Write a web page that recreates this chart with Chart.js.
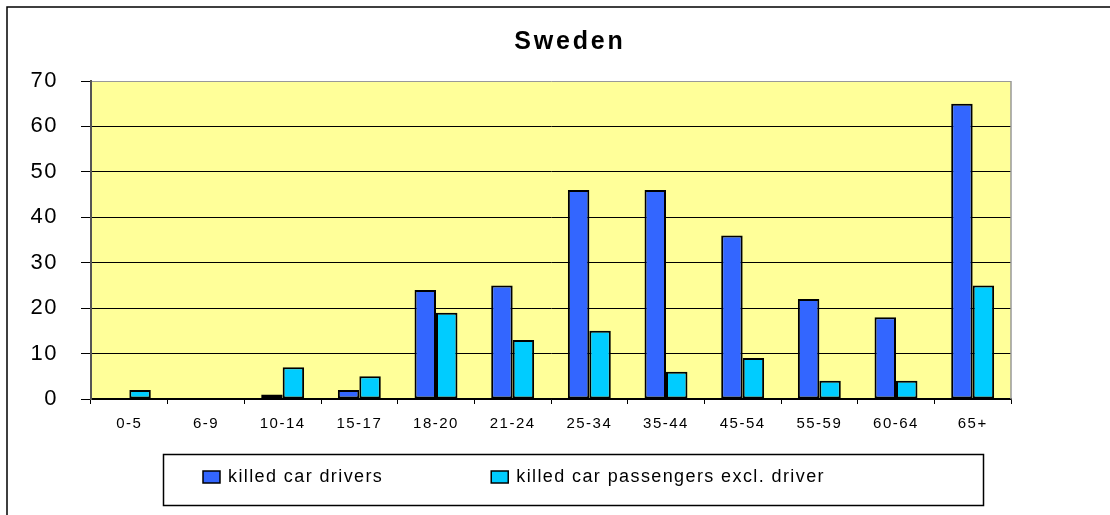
<!DOCTYPE html>
<html>
<head>
<meta charset="utf-8">
<script src="https://cdn.jsdelivr.net/npm/chart.js@4"></script>
<style>
  html, body { margin: 0; padding: 0; background: #fff; overflow: hidden; }
  canvas { display: block; }
</style>
</head>
<body>
<canvas id="sweden" width="1110" height="515"></canvas>
<script>
const ageGroups = ['0-5', '6-9', '10-14', '15-17', '18-20', '21-24', '25-34', '35-44', '45-54', '55-59', '60-64', '65+'];
const killedDrivers = [0, 0, 1, 2, 24, 25, 46, 46, 36, 22, 18, 65];
const killedPassengers = [2, 0, 7, 5, 19, 13, 15, 6, 9, 4, 4, 25];
const yTicks = [0, 10, 20, 30, 40, 50, 60, 70];
const seriesNames = ['killed car drivers', 'killed car passengers excl. driver'];
const chartTitle = 'Sweden';

const FONT = '"Liberation Sans", Arial, sans-serif';
Chart.defaults.font.family = FONT;
Chart.defaults.color = '#000';

// frame round the chart, yellow plot area, title and boxed legend like the Excel export
const excelLook = {
  id: 'excelLook',
  beforeDraw(chart) {
    const { ctx, chartArea: a } = chart;
    ctx.letterSpacing = '1.5px';
    ctx.save();
    ctx.fillStyle = '#FFFF99';
    ctx.fillRect(a.left, a.top, a.right - a.left, a.bottom - a.top);
    ctx.strokeStyle = '#000';
    ctx.lineWidth = 1.5;
    ctx.beginPath();
    ctx.moveTo(7, chart.height);
    ctx.lineTo(7, 7);
    ctx.lineTo(chart.width, 7);
    ctx.stroke();
    ctx.restore();
  },
  afterDraw(chart) {
    const { ctx, chartArea: a } = chart;
    ctx.save();
    ctx.strokeStyle = '#999';
    ctx.lineWidth = 1.5;
    ctx.beginPath();
    ctx.moveTo(a.right, a.top);
    ctx.lineTo(a.right, a.bottom);
    ctx.stroke();

    // title, centred on the whole chart frame
    ctx.fillStyle = '#000';
    ctx.font = 'bold 25px ' + FONT;
    ctx.letterSpacing = '2.8px';
    ctx.textAlign = 'center';
    ctx.textBaseline = 'alphabetic';
    ctx.fillText(chartTitle, 570, 49);

    // legend box
    ctx.textAlign = 'left';
    ctx.strokeStyle = '#000';
    ctx.strokeRect(163.5, 454.5, 820, 51);
    ctx.font = '18px ' + FONT;
    ctx.letterSpacing = '1.4px';
    ctx.textBaseline = 'middle';
    let x = 203;
    chart.data.datasets.forEach(ds => {
      ctx.fillStyle = ds.backgroundColor;
      ctx.fillRect(x, 471, 17, 12);
      ctx.lineWidth = 1.5;
      ctx.strokeRect(x, 471, 17, 12);
      ctx.fillStyle = '#000';
      ctx.fillText(ds.label, x + 25, 477);
      x += 25 + ctx.measureText(ds.label).width + 108;
    });
    ctx.restore();
  }
};

new Chart(document.getElementById('sweden'), {
  type: 'bar',
  data: {
    labels: ageGroups,
    datasets: [
      {
        label: seriesNames[0],
        data: killedDrivers,
        backgroundColor: '#3366FF',
        borderColor: '#000',
        borderWidth: 2,
        borderSkipped: false
      },
      {
        label: seriesNames[1],
        data: killedPassengers,
        backgroundColor: '#00CCFF',
        borderColor: '#000',
        borderWidth: 2,
        borderSkipped: false
      }
    ]
  },
  options: {
    responsive: false,
    animation: false,
    categoryPercentage: 0.56,
    barPercentage: 1,
    layout: { padding: { left: 7, right: 99, top: 81, bottom: 82 } },
    plugins: {
      legend: { display: false },
      tooltip: { enabled: false },
      title: { display: false }
    },
    scales: {
      x: {
        afterFit: s => { s.height = 34; },
        grid: {
          offset: true,
          drawOnChartArea: false,
          tickLength: 5,
          tickColor: '#000',
          tickWidth: 1
        },
        border: { color: '#000', width: 1.5 },
        ticks: { font: { size: 15 }, padding: 11, maxRotation: 0, autoSkip: false }
      },
      y: {
        min: 0,
        max: 70,
        afterFit: s => { s.width = 84; },
        afterBuildTicks: s => { s.ticks = yTicks.map(v => ({ value: v })); },
        grid: {
          color: ctx => ctx.tick && ctx.tick.value === 70 ? '#999' : '#000',
          lineWidth: 1,
          tickLength: 10,
          tickColor: '#000'
        },
        border: { color: '#555', width: 2 },
        ticks: { font: { size: 22 }, padding: 23 }
      }
    }
  },
  plugins: [excelLook]
});
</script>
</body>
</html>
